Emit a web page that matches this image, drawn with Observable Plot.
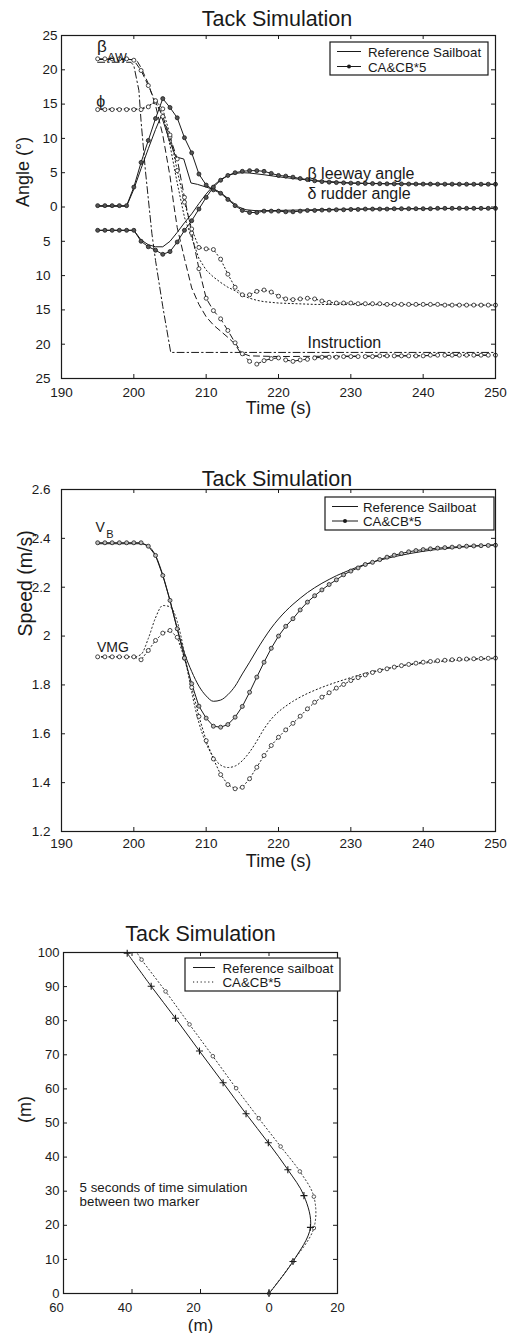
<!DOCTYPE html>
<html><head><meta charset="utf-8">
<script src="https://cdn.jsdelivr.net/npm/d3@7"></script>
<script src="https://cdn.jsdelivr.net/npm/@observablehq/plot@0.6"></script>
<style>
body{margin:0;background:#fff;}
#wrap{position:relative;width:510px;height:1333px;overflow:hidden;}
#wrap > svg{display:block;}
#legends{position:absolute;left:0;top:0;pointer-events:none;}
</style></head><body><div id="wrap"></div>
<script>
// ---------------- DATA ----------------
// Panel 1 & 2: CA&CB*5 series sampled every second (markers)
const secs = [195,196,197,198,199,200,201,202,203,204,205,206,207,208,209,210,211,212,213,214,215,216,217,218,219,220,221,222,223,224,225,226,227,228,229,230,231,232,233,234,235,236,237,238,239,240,241,242,243,244,245,246,247,248,249,250];

// Panel 1 (Angle, deg)
const betaAwCA = [21.6,21.6,21.6,21.6,21.6,21.4,19.9,17.7,15.3,13.2,10.2,7.0,1.4,-3.8,-9.0,-13.3,-15.1,-16.3,-18.0,-19.8,-21.4,-22.5,-22.9,-22.4,-22.1,-22.0,-22.3,-22.5,-22.3,-22.2,-22.0,-21.9,-21.9,-21.9,-21.8,-21.8,-21.8,-21.8,-21.8,-21.7,-21.7,-21.7,-21.7,-21.7,-21.7,-21.7,-21.6,-21.6,-21.6,-21.6,-21.6,-21.6,-21.6,-21.6,-21.6,-21.6];
const phiCA = [14.2,14.2,14.2,14.2,14.2,14.2,14.2,14.6,15.5,14.3,10.5,5.3,0.7,-3.2,-5.9,-6.1,-6.2,-7.6,-9.8,-11.7,-12.8,-12.8,-12.3,-12.1,-12.4,-13.0,-13.4,-13.5,-13.4,-13.3,-13.4,-13.7,-13.9,-14.0,-14.0,-14.0,-14.1,-14.1,-14.1,-14.1,-14.2,-14.2,-14.2,-14.2,-14.2,-14.2,-14.2,-14.2,-14.3,-14.3,-14.3,-14.3,-14.3,-14.3,-14.3,-14.3];
const deltaCA = [0.2,0.2,0.2,0.2,0.2,2.9,6.5,9.7,12.9,15.8,14.5,13.0,10.1,7.9,4.8,3.2,2.5,2.0,1.1,0.2,-0.5,-0.8,-0.8,-0.6,-0.6,-0.6,-0.7,-0.7,-0.6,-0.5,-0.5,-0.45,-0.45,-0.4,-0.4,-0.35,-0.35,-0.3,-0.3,-0.3,-0.3,-0.25,-0.25,-0.25,-0.25,-0.25,-0.25,-0.2,-0.2,-0.2,-0.2,-0.2,-0.2,-0.2,-0.2,-0.2];
const betaCA = [-3.4,-3.4,-3.4,-3.4,-3.4,-3.4,-5.0,-5.8,-6.3,-6.9,-6.5,-5.1,-3.4,-2.0,-0.3,1.4,2.9,3.9,4.6,5.0,5.2,5.3,5.3,5.2,4.9,4.6,4.5,4.35,4.15,4.0,3.82,3.7,3.62,3.56,3.52,3.48,3.45,3.43,3.41,3.4,3.38,3.37,3.36,3.35,3.35,3.34,3.34,3.33,3.33,3.33,3.32,3.32,3.32,3.32,3.32,3.32];

// Reference sailboat (no markers): [time, value]
const betaAwRef = [[195,21.5],[200,21.5],[200.5,21.2],[201,20.3],[202,18],[203,14.8],[204,10.5],[205,4.5],[205.5,0.5],[206,-3],[207,-7.5],[208,-11.8],[209,-14.2],[210,-16],[211,-17.2],[212,-18.1],[213,-19],[214,-20],[214.7,-21.2],[216,-21.7],[220,-21.8],[250,-21.6]];
const phiRef = [[195,14.3],[201,14.3],[202,14.8],[203,15.2],[204,13.5],[205,9],[206,3.5],[207,-1.5],[208,-4.5],[209,-7.5],[210,-9.2],[211,-10.2],[212,-11],[213,-11.7],[214,-12.2],[215,-12.9],[216,-13.3],[217,-13.6],[218,-13.8],[220,-14.0],[225,-14.2],[250,-14.3]];
const deltaRef = [[195,0.1],[199,0.1],[200,2.6],[201,5.6],[202,8.5],[203,11.3],[203.8,13.3],[205,9.5],[205.8,7.3],[206.9,7.0],[207.9,3.5],[208.8,3.3],[210,2.9],[211.5,2.4],[212.5,1.7],[213.5,0.8],[214.5,0],[215.5,-0.4],[217,-0.55],[220,-0.5],[225,-0.4],[230,-0.3],[240,-0.25],[250,-0.2]];
const betaRef = [[195,-3.4],[200,-3.4],[201,-4.8],[202,-5.5],[203,-5.8],[204,-5.8],[205,-5.0],[206,-3.7],[207,-2.3],[208,-1.0],[209,0.5],[210,1.9],[211,3.1],[212,4.0],[213,4.6],[214,4.9],[215,5.0],[216,4.95],[218,4.7],[220,4.4],[222,4.15],[225,3.85],[230,3.5],[235,3.4],[240,3.35],[250,3.3]];
const instruction = [[195,21.1],[199.6,21.1],[200,20.6],[200.7,17],[201,12.5],[201.6,5.3],[202.5,-3.9],[203,-7.8],[204,-14.5],[205.1,-21.2],[250,-21.2]];

// Panel 2 (Speed, m/s)
const vbCA = [2.382,2.382,2.382,2.382,2.382,2.382,2.382,2.368,2.33,2.248,2.146,2.03,1.91,1.805,1.713,1.664,1.631,1.627,1.638,1.668,1.712,1.77,1.832,1.893,1.95,2.0,2.04,2.071,2.107,2.139,2.165,2.189,2.211,2.23,2.251,2.266,2.279,2.293,2.302,2.313,2.323,2.331,2.338,2.345,2.35,2.354,2.357,2.36,2.362,2.364,2.366,2.368,2.369,2.37,2.371,2.372];
const vmgCA = [1.915,1.915,1.915,1.915,1.915,1.915,1.903,1.941,1.982,2.012,2.023,1.995,1.91,1.79,1.671,1.572,1.497,1.433,1.392,1.375,1.381,1.416,1.463,1.511,1.552,1.586,1.616,1.643,1.672,1.702,1.729,1.75,1.768,1.787,1.802,1.818,1.83,1.841,1.851,1.859,1.866,1.873,1.879,1.884,1.889,1.893,1.896,1.899,1.901,1.903,1.905,1.906,1.907,1.908,1.909,1.91];
const vbRef = [[195,2.378],[201,2.378],[202,2.368],[203,2.33],[204,2.25],[205,2.145],[206,2.03],[207,1.93],[208,1.855],[209,1.795],[210,1.755],[211,1.733],[212,1.738],[213,1.76],[214,1.795],[215,1.845],[216,1.893],[217,1.943],[218,1.99],[219,2.033],[220,2.07],[221,2.102],[222,2.13],[223,2.155],[224,2.178],[225,2.198],[226,2.216],[227,2.232],[228,2.247],[229,2.26],[230,2.272],[232,2.294],[234,2.311],[236,2.325],[238,2.337],[240,2.347],[243,2.358],[246,2.366],[250,2.374]];
const vmgRef = [[195,1.915],[200,1.915],[201,1.925],[202,1.99],[203,2.075],[204,2.125],[205,2.12],[206,2.06],[207,1.93],[208,1.77],[209,1.645],[210,1.56],[211,1.505],[212,1.472],[213,1.462],[214,1.468],[215,1.49],[216,1.525],[217,1.57],[218,1.62],[219,1.66],[220,1.69],[221,1.713],[222,1.733],[223,1.75],[224,1.765],[225,1.778],[226,1.79],[227,1.801],[228,1.811],[230,1.83],[232,1.848],[234,1.862],[236,1.873],[238,1.882],[240,1.889],[244,1.899],[250,1.908]];

// Panel 3 (track, m) markers every 5 s
const refX = [0,7.0,12.1,10.2,5.5,-0.2,-6.7,-13.4,-20.3,-27.3,-34.4,-41.4];
const refY = [0,9.4,19.4,28.7,36.3,44.2,52.7,61.8,71.1,80.7,90.1,99.8];
const caX = [0,7.0,13.1,13.1,9.0,3.4,-3.0,-9.6,-16.4,-23.2,-30.2,-37.2];
const caY = [0,9.4,19.2,28.4,35.8,43.1,51.4,60.2,69.6,78.9,88.6,97.9];
const caTop = [-38.6,100]; // where the CA&CB*5 track leaves the frame

// Tick values
const timeTicks = [190,200,210,220,230,240,250];
const angleTicksPos = [0,5,10,15,20,25];
const angleTicksNeg = [-5,-10,-15,-20,-25];
const speedTicks = [1.2,1.4,1.6,1.8,2.0,2.2,2.4,2.6];
const trackXNeg = [-60,-40,-20];
const trackXPos = [0,20];
const trackYTicks = [0,10,20,30,40,50,60,70,80,90,100];

// Labels
const legendNames = ["Reference Sailboat","CA&CB*5"];
const legendNames3 = ["Reference sailboat","CA&CB*5"];
const title = "Tack Simulation";

// ---------------- DRAWING ----------------
const FONT = "'Liberation Sans', Arial, Helvetica, sans-serif";
const INK = "#1a1a1a";
const DASH = "6,4";
const DOT = "1.2,2.6";
const DASHDOT = "7,3,1.5,3";
const wrap = document.getElementById("wrap");

const S = (vals) => secs.map((t, i) => ({x: t, y: vals[i]}));
const P = (pairs) => pairs.map(([x, y]) => ({x, y}));
const T = (xs, ys) => xs.map((x, i) => ({x, y: ys[i]}));

function inTicks(xt, yt, fw, fh, len = 4) {
  return [
    Plot.ruleX(xt, {insetTop: fh - len, stroke: INK}),
    Plot.ruleX(xt, {insetBottom: fh - len, stroke: INK}),
    Plot.ruleY(yt, {insetRight: fw - len, stroke: INK}),
    Plot.ruleY(yt, {insetLeft: fw - len, stroke: INK})
  ];
}
const baseStyle = {fontFamily: FONT, fontSize: "13.5px", color: INK, background: "white"};
const ln = (data, dash, extra = {}) => Plot.line(data, {x: "x", y: "y", stroke: INK, strokeWidth: 1, strokeDasharray: dash, ...extra});
const mk = (data, fill) => Plot.dot(data, {x: "x", y: "y", r: 2, fill, stroke: INK, strokeWidth: 0.8});

// Panel 1
const fw1 = 434, fh1 = 343;
const p1 = Plot.plot({
  width: 510, height: 440, marginTop: 35, marginBottom: 62, marginLeft: 61, marginRight: 15,
  style: baseStyle,
  x: {domain: [190, 250]},
  y: {domain: [-25, 25]},
  marks: [
    ln(P(instruction), DASHDOT),
    ln(P(betaAwRef), DASH),
    ln(S(betaAwCA), DASH),
    ln(P(phiRef), DOT),
    ln(S(phiCA), DOT),
    ln(P(deltaRef), null),
    ln(S(deltaCA), null),
    ln(P(betaRef), null),
    ln(S(betaCA), null),
    mk(S(betaAwCA), "white"),
    mk(S(phiCA), "white"),
    mk(S(deltaCA), "#555"),
    mk(S(betaCA), "#555"),
    Plot.frame({stroke: INK, strokeWidth: 1.2}),
    ...inTicks(timeTicks, angleTicksPos.concat(angleTicksNeg), fw1, fh1),
    Plot.axisX({ticks: timeTicks, tickSize: 0, tickPadding: 9, label: null}),
    Plot.axisY({ticks: angleTicksPos, tickSize: 0, tickPadding: 4, label: null, tickFormat: (d) => Math.abs(d)}),
    Plot.axisY({ticks: angleTicksNeg, tickSize: 0, tickPadding: 4, dx: -7, label: null, tickFormat: (d) => Math.abs(d)}),
    Plot.text([title], {frameAnchor: "top", dy: -10, dx: -1.5, lineAnchor: "bottom", fontSize: 21.5, fill: INK}),
    Plot.text(["Time (s)"], {frameAnchor: "bottom", dy: 35, lineAnchor: "bottom", fontSize: 18, fill: INK}),
    Plot.text(["Angle (°)"], {frameAnchor: "left", dx: -32.5, rotate: -90, lineAnchor: "bottom", fontSize: 18, fill: INK}),
    Plot.text([{t: 194.9, v: 22.6, s: "β"}], {x: "t", y: "v", text: "s", textAnchor: "start", lineAnchor: "bottom", fontSize: 17, fill: INK}),
    Plot.text([{t: 196.3, v: 21.1, s: "AW"}], {x: "t", y: "v", text: "s", textAnchor: "start", lineAnchor: "bottom", fontSize: 12.5, fill: INK}),
    Plot.text([{t: 194.8, v: 14.6, s: "ϕ"}], {x: "t", y: "v", text: "s", textAnchor: "start", lineAnchor: "bottom", fontSize: 16, fill: INK}),
    Plot.text([{t: 224, v: 4.15, s: "β leeway angle"}, {t: 224, v: 1.1, s: "δ rudder angle"}, {t: 224, v: -20.6, s: "Instruction"}],
      {x: "t", y: "v", text: "s", textAnchor: "start", lineAnchor: "bottom", fontSize: 16, fill: INK})
  ]
});
wrap.appendChild(p1);

// Panel 2
const fw2 = 434, fh2 = 342;
const p2 = Plot.plot({
  width: 510, height: 450, marginTop: 49, marginBottom: 59, marginLeft: 61, marginRight: 15,
  style: baseStyle,
  x: {domain: [190, 250]},
  y: {domain: [1.2, 2.6]},
  marks: [
    ln(P(vmgRef), DOT, {curve: "monotone-x"}),
    ln(S(vmgCA), DOT),
    ln(P(vbRef), null, {curve: "monotone-x"}),
    ln(S(vbCA), null),
    mk(S(vmgCA), "white"),
    mk(S(vbCA), "#bbb"),
    Plot.frame({stroke: INK, strokeWidth: 1.2}),
    ...inTicks(timeTicks, speedTicks, fw2, fh2),
    Plot.axisX({ticks: timeTicks, tickSize: 0, tickPadding: 7, label: null}),
    Plot.axisY({ticks: speedTicks, tickSize: 0, tickPadding: 11, label: null, tickFormat: (d) => String(+d.toFixed(1))}),
    Plot.text([title], {frameAnchor: "top", dy: -4, dx: -1.5, lineAnchor: "bottom", fontSize: 21.5, fill: INK}),
    Plot.text(["Time (s)"], {frameAnchor: "bottom", dy: 35, lineAnchor: "bottom", fontSize: 18, fill: INK}),
    Plot.text(["Speed (m/s)"], {frameAnchor: "left", dx: -30, dy: -24, rotate: -90, lineAnchor: "bottom", fontSize: 19.5, fill: INK}),
    Plot.text([{t: 194.7, v: 2.424, s: "V"}, {t: 194.9, v: 1.933, s: "VMG"}], {x: "t", y: "v", text: "s", textAnchor: "start", lineAnchor: "bottom", fontSize: 14, fill: INK}),
    Plot.text([{t: 196.2, v: 2.403, s: "B"}], {x: "t", y: "v", text: "s", textAnchor: "start", lineAnchor: "bottom", fontSize: 11, fill: INK})
  ]
});
wrap.appendChild(p2);

// Panel 3
const fw3 = 274, fh3 = 341;
const p3 = Plot.plot({
  width: 510, height: 443, marginTop: 62, marginBottom: 40, marginLeft: 63, marginRight: 173,
  style: {...baseStyle, fontSize: "13px"},
  x: {domain: [-60, 20]},
  y: {domain: [0, 100]},
  marks: [
    ln(T(caX.concat([caTop[0]]), caY.concat([caTop[1]])), DOT, {curve: "catmull-rom", stroke: "#333"}),
    ln(T(refX, refY), null, {curve: "catmull-rom"}),
    Plot.dot(T(caX, caY), {x: "x", y: "y", r: 1.8, fill: "white", stroke: "#444", strokeWidth: 0.9}),
    Plot.dot(T(refX, refY), {x: "x", y: "y", symbol: "plus", r: 2.4, stroke: INK, strokeWidth: 1.1}),
    Plot.frame({stroke: INK, strokeWidth: 1.2}),
    ...inTicks(trackXNeg.concat(trackXPos), trackYTicks, fw3, fh3),
    Plot.axisX({ticks: trackXNeg, tickSize: 0, tickPadding: 9.5, dx: -7, label: null, tickFormat: (d) => Math.abs(d)}),
    Plot.axisX({ticks: trackXPos, tickSize: 0, tickPadding: 9.5, label: null, tickFormat: (d) => Math.abs(d)}),
    Plot.axisY({ticks: trackYTicks, tickSize: 0, tickPadding: 4, label: null}),
    Plot.text([title], {frameAnchor: "top", dy: -12, lineAnchor: "bottom", fontSize: 21.5, fill: INK}),
    Plot.text(["(m)"], {frameAnchor: "bottom", dy: 37, lineAnchor: "bottom", fontSize: 17, fill: INK}),
    Plot.text(["(m)"], {frameAnchor: "left", dx: -33, rotate: -90, lineAnchor: "bottom", fontSize: 18, fill: INK}),
    Plot.text([{x: -55.3, y: 29.9, s: "5 seconds of time simulation"}, {x: -55.3, y: 25.8, s: "between two marker"}],
      {x: "x", y: "y", text: "s", textAnchor: "start", lineAnchor: "bottom", fontSize: 13.3, fill: INK})
  ]
});
wrap.appendChild(p3);

// Legends (overlay, page coordinates)
const lg = d3.select(wrap).append("svg").attr("id", "legends").attr("width", 510).attr("height", 1333)
  .style("font-family", FONT).style("font-size", "13.3px");
function legend(box, rows) {
  lg.append("rect").attr("x", box.x).attr("y", box.y).attr("width", box.w).attr("height", box.h)
    .attr("fill", "white").attr("stroke", INK).attr("stroke-width", 1.2);
  rows.forEach((r) => {
    lg.append("line").attr("x1", r.x1).attr("x2", r.x2).attr("y1", r.y).attr("y2", r.y)
      .attr("stroke", INK).attr("stroke-width", 1).attr("stroke-dasharray", r.dash || null);
    if (r.marker) lg.append("circle").attr("cx", (r.x1 + r.x2) / 2).attr("cy", r.y).attr("r", 2).attr("fill", INK);
    lg.append("text").attr("x", r.tx).attr("y", r.y + 5).attr("fill", INK).text(r.name);
  });
}
legend({x: 330, y: 42, w: 158, h: 33}, [
  {x1: 337, x2: 361, y: 51.5, tx: 368, name: legendNames[0]},
  {x1: 337, x2: 361, y: 66.5, tx: 368, name: legendNames[1], marker: true}
]);
legend({x: 325, y: 497, w: 169, h: 33}, [
  {x1: 332, x2: 358, y: 506.5, tx: 363, name: legendNames[0]},
  {x1: 332, x2: 358, y: 521, tx: 363, name: legendNames[1], marker: true}
]);
legend({x: 185, y: 958, w: 155, h: 33}, [
  {x1: 193, x2: 215, y: 967.5, tx: 222.5, name: legendNames3[0]},
  {x1: 193, x2: 215, y: 982, tx: 222.5, name: legendNames3[1], dash: DOT}
]);
</script></body></html>
